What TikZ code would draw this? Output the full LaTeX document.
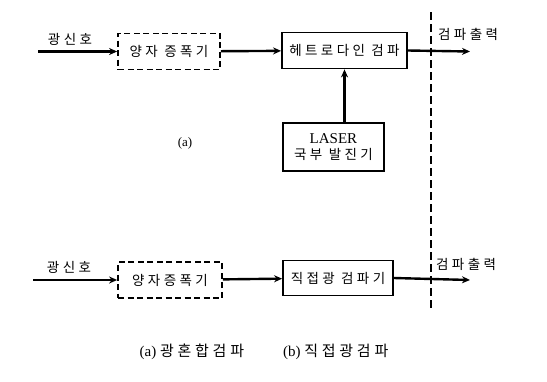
\documentclass[tikz,border=0pt]{standalone}
\usepackage{fontspec}
\setmainfont{Liberation Serif}
\newfontfamily\kr[LetterSpace=25]{Noto Sans CJK KR}
\usetikzlibrary{arrows.meta}
\begin{document}
\begin{tikzpicture}[x=1pt,y=-1pt,
  krtext/.style={font=\kr\fontsize{13.5}{15}\selectfont},
  blk/.style={draw,line width=1.8pt,minimum height=36pt,inner sep=2pt,krtext},
  dblk/.style={blk,dashed,dash pattern=on 6pt off 3.5pt},
  conn/.style={line width=2.4pt,-{Stealth[length=8pt,width=7pt]}},
  lbl/.style={krtext,inner sep=0pt}]
\useasboundingbox (0,0) rectangle (547,381);

% (a) optical heterodyne branch
\node[dblk,minimum width=102pt] (amp1) at (169,51.5) {양자 증폭기};
\node[blk,minimum width=125pt] (het) at (344.5,50.5) {헤트로다인 검파};
\node[blk,minimum width=101pt,minimum height=48pt,align=center] (lo) at (333.5,147)
  {{\rmfamily\fontsize{15}{16}\selectfont LASER}\\[1pt]국부 발진기};
\coordinate (ina) at (38,51.5);
\coordinate (outa) at (470,51.5);
\draw[conn] (ina) -- (amp1);
\draw[conn] (amp1) -- (het);
\draw[conn] (het.east) -- (outa);
\draw[conn] (lo.north -| het.south) -- (het.south);
\node[lbl,anchor=south] (sa) at (70,46) {광신호};
\node[lbl,anchor=south west] (oa) at (438,41) {검파출력};
\node[font=\fontsize{13}{14}\selectfont,inner sep=0pt] (capa) at (185,143) {(a)};

% (b) direct detection branch
\node[dblk,minimum width=104pt] (amp2) at (170,280) {양자증폭기};
\node[blk,minimum width=110pt,minimum height=35pt] (dir) at (338,278) {직접광 검파기};
\coordinate (inb) at (33,280);
\coordinate (outb) at (470,280);
\draw[conn] (inb) -- (amp2);
\draw[conn] (amp2) -- (dir);
\draw[conn] (dir.east) -- (outb);
\node[lbl,anchor=south] (sb) at (69,274) {광신호};
\node[lbl,anchor=south west] (ob) at (436,271) {검파출력};

% detector output boundary
\coordinate (bt) at (431,12);
\coordinate (bb) at (431,310);
\draw[line width=1.6pt,dash pattern=on 8pt off 4pt] (bt) -- (bb);

% caption
\node[inner sep=0pt,font=\fontsize{15}{17}\selectfont] (cap) at (264,352)
  {(a) {\kr 광혼합검파}\hspace{2.6em}(b) {\kr 직접광검파}};
\end{tikzpicture}
\end{document}
